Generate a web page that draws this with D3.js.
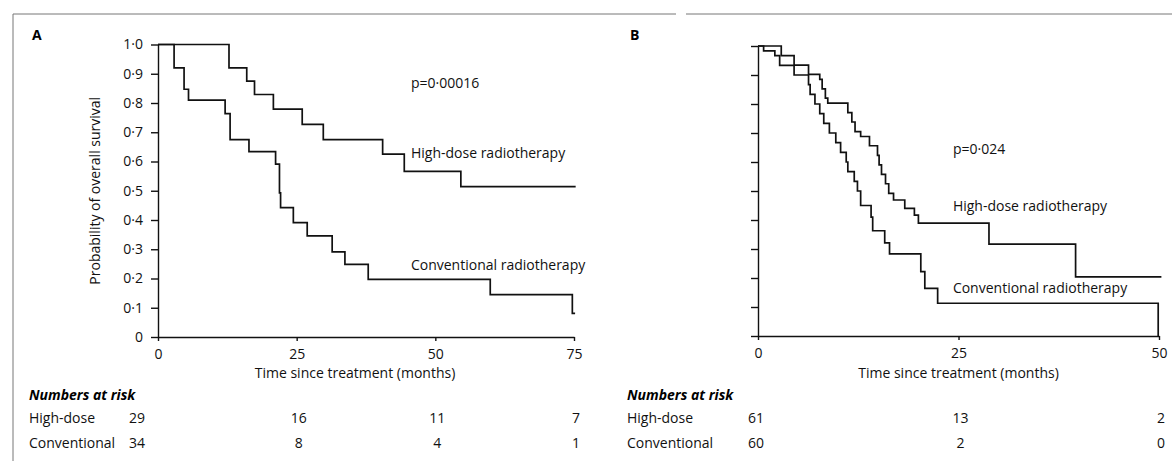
<!doctype html>
<html lang="en">
<head>
<meta charset="utf-8">
<title>Overall survival</title>
<script src="https://d3js.org/d3.v7.min.js"></script>
<style>
  body { margin: 0; background: #fff; }
  svg { display: block; font-family: "Open Sans", sans-serif; }
  .axis path, .axis line { stroke: #111; stroke-width: 1.4px; }
  .axis text { font-family: "Open Sans", sans-serif; font-size: 14px; fill: #111; }
  .curve { fill: none; stroke: #111; stroke-width: 1.7px; }
  .lbl { font-size: 14px; fill: #111; }
</style>
</head>
<body>
<svg id="chart" width="1172" height="461"></svg>
<script>
// panel A (months 0-75) - last point just carries the curve to its end
var hdTimesA = [0, 12.8, 16.0, 17.4, 20.8, 26.0, 29.8, 40.5, 44.4, 54.6, 75.3];
var hdSurvA = [1, 0.92, 0.875, 0.829, 0.779, 0.727, 0.675, 0.625, 0.566, 0.514, 0.514];
var convTimesA = [0, 2.9, 4.7, 5.5, 12.1, 13.0, 16.4, 21.2, 21.9, 22.1, 24.4, 26.9, 31.4, 33.7, 37.9, 59.9, 74.7, 75.2];
var convSurvA = [1, 0.92, 0.847, 0.81, 0.764, 0.675, 0.634, 0.591, 0.493, 0.442, 0.391, 0.346, 0.291, 0.248, 0.197, 0.145, 0.081, 0.081];

// panel B (months 0-50)
var hdTimesB = [0, 2.9, 4.5, 6.3, 7.7, 8.0, 8.4, 8.7, 11.2, 11.7, 12.1, 12.8, 13.9, 14.9, 15.1, 15.4, 15.9, 16.3, 16.9, 18.3, 19.5, 20.0, 28.8, 39.6, 50.3];
var hdSurvB = [1, 0.967, 0.934, 0.902, 0.885, 0.852, 0.820, 0.803, 0.770, 0.738, 0.705, 0.688, 0.656, 0.623, 0.590, 0.557, 0.525, 0.492, 0.469, 0.440, 0.417, 0.389, 0.317, 0.204, 0.204];
var convTimesB = [0, 0.7, 2.1, 2.7, 4.5, 6.3, 6.5, 7.1, 7.7, 8.2, 8.9, 9.7, 10.3, 11.0, 11.2, 12.0, 12.4, 12.8, 14.1, 14.3, 15.8, 16.4, 20.3, 20.8, 22.4, 49.9];
var convSurvB = [1, 0.983, 0.967, 0.933, 0.900, 0.867, 0.833, 0.800, 0.767, 0.733, 0.700, 0.667, 0.633, 0.600, 0.567, 0.533, 0.500, 0.450, 0.410, 0.363, 0.321, 0.283, 0.222, 0.164, 0.113, 0];

// numbers at risk
var riskTimesA = [0, 25, 50, 75];
var hdRiskA = [29, 16, 11, 7];
var convRiskA = [34, 8, 4, 1];
var riskTimesB = [0, 25, 50];
var hdRiskB = [61, 13, 2];
var convRiskB = [60, 2, 0];

var yTicks = [0, 0.1, 0.2, 0.3, 0.4, 0.5, 0.6, 0.7, 0.8, 0.9, 1.0];
var pValues = ["p=0\u00B700016", "p=0\u00B7024"];
var curveNames = ["High-dose radiotherapy", "Conventional radiotherapy"];
var rowNames = ["High-dose", "Conventional"];

function zip(t, s) { return t.map(function (d, i) { return [d, s[i]]; }); }

var panels = [
  { letter: "A", lx: 32, x0: 158, x1: 574, yTop: 44.5, yBot: 337, tmax: 75, ticks: riskTimesA,
    hd: zip(hdTimesA, hdSurvA), conv: zip(convTimesA, convSurvA),
    risk: [hdRiskA, convRiskA], riskDx0: -21, yLabels: true, titleDx: -11,
    ann: { t: 45.6, p: 0.851, hd: 0.612, conv: 0.229 } },
  { letter: "B", lx: 630, x0: 758, x1: 1159, yTop: 46, yBot: 336, tmax: 50, ticks: riskTimesB,
    hd: zip(hdTimesB, hdSurvB), conv: zip(convTimesB, convSurvB),
    risk: [hdRiskB, convRiskB], riskDx0: -2, yLabels: false, titleDx: 0,
    ann: { t: 24.3, p: 0.628, hd: 0.431, conv: 0.148 } }
];

var svg = d3.select("#chart");

// frame: thin grey rule along top and left
svg.append("g")
  .selectAll("line")
  .data([[13, 14, 676, 14], [686, 14, 1172, 14], [13, 14, 13, 461]])
  .enter()
  .append("line")
  .attr("x1", function (d) { return d[0]; })
  .attr("y1", function (d) { return d[1]; })
  .attr("x2", function (d) { return d[2]; })
  .attr("y2", function (d) { return d[3]; })
  .style("stroke", "#777")
  .style("stroke-width", 1);

function fmt(d) {
  return d === 0 ? "0" : d3.format(".1f")(d).replace(".", "\u00B7");
}

panels.forEach(function (p, pi) {
  var x = d3.scaleLinear().domain([0, p.tmax]).range([p.x0, p.x1]);
  var y = d3.scaleLinear().domain([0, 1]).range([p.yBot, p.yTop]);
  var g = svg.append("g");

  g.append("text")
    .attr("x", p.lx).attr("y", 40)
    .style("font-size", "14px").style("font-weight", "bold")
    .text(p.letter);

  g.append("g")
    .attr("class", "axis")
    .attr("transform", "translate(" + p.x0 + ",0)")
    .call(d3.axisLeft(y).tickValues(yTicks).tickSize(7).tickSizeOuter(0).tickPadding(8)
      .tickFormat(p.yLabels ? fmt : function () { return ""; }));

  g.append("g")
    .attr("class", "axis")
    .attr("transform", "translate(0," + p.yBot + ")")
    .call(d3.axisBottom(x).tickValues(p.ticks).tickSize(4).tickSizeOuter(0).tickPadding(8));

  if (p.yLabels) {
    g.append("text")
      .attr("class", "lbl")
      .attr("transform", "translate(100," + ((p.yTop + p.yBot) / 2) + ") rotate(-90)")
      .attr("text-anchor", "middle")
      .text("Probability of overall survival");
  }

  g.append("text")
    .attr("class", "lbl")
    .attr("x", (p.x0 + p.x1) / 2 + p.titleDx).attr("y", 378)
    .attr("text-anchor", "middle")
    .text("Time since treatment (months)");

  var line = d3.line()
    .x(function (d) { return x(d[0]); })
    .y(function (d) { return y(d[1]); })
    .curve(d3.curveStepAfter);

  g.selectAll("path.curve")
    .data([p.hd, p.conv])
    .enter()
    .append("path")
    .attr("class", "curve")
    .attr("d", line);

  // annotations
  g.append("text").attr("class", "lbl")
    .attr("x", x(p.ann.t)).attr("y", y(p.ann.p)).text(pValues[pi]);
  g.append("text").attr("class", "lbl")
    .attr("x", x(p.ann.t)).attr("y", y(p.ann.hd)).text(curveNames[0]);
  g.append("text").attr("class", "lbl")
    .attr("x", x(p.ann.t)).attr("y", y(p.ann.conv)).text(curveNames[1]);

  // numbers at risk table
  g.append("text")
    .attr("x", p.lx - 3).attr("y", 400)
    .style("font-size", "14px").style("font-weight", "bold").style("font-style", "italic")
    .text("Numbers at risk");

  var rowY = [423, 448];
  p.risk.forEach(function (row, ri) {
    g.append("text").attr("class", "lbl")
      .attr("x", p.lx - 3).attr("y", rowY[ri])
      .text(rowNames[ri]);
    g.selectAll("text.n" + ri)
      .data(row)
      .enter()
      .append("text")
      .attr("class", "lbl n" + ri)
      .attr("x", function (d, i) { return x(p.ticks[i]) + (i === 0 ? p.riskDx0 : 2); })
      .attr("y", rowY[ri])
      .attr("text-anchor", "middle")
      .text(function (d) { return d; });
  });
});
</script>
</body>
</html>
